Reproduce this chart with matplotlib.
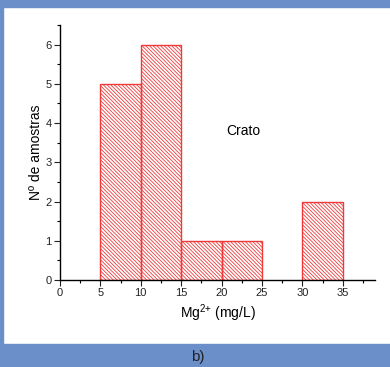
import matplotlib
matplotlib.use('Agg')
import matplotlib.pyplot as plt
from matplotlib.patches import Rectangle
from matplotlib.ticker import MultipleLocator

# histogram bins (mg/L) and counts
bin_left = [5, 10, 15, 20, 30]
bin_width = [5, 5, 5, 5, 5]
counts = [5, 6, 1, 1, 2]

plt.rcParams['font.family'] = ['Liberation Sans', 'DejaVu Sans']
plt.rcParams['mathtext.fontset'] = 'custom'
plt.rcParams['mathtext.rm'] = 'Liberation Sans'
plt.rcParams['mathtext.default'] = 'regular'
plt.rcParams['hatch.color'] = '#ff4040'
plt.rcParams['hatch.linewidth'] = 0.6

BLUE = '#6a8fc9'
RED = '#f03a3a'

fig = plt.figure(figsize=(3.9, 3.67), dpi=100)
fig.patch.set_facecolor('white')

# blue frame strips (figure background decoration)
W, H = 390, 367
fig.patches.append(Rectangle((0, 1 - 7 / H), 1, 7 / H, transform=fig.transFigure,
                             color=BLUE, zorder=0))
fig.patches.append(Rectangle((0, 0), 3 / W, 1, transform=fig.transFigure,
                             color=BLUE, zorder=0))
fig.patches.append(Rectangle((0, 0), 1, 23 / H, transform=fig.transFigure,
                             color=BLUE, zorder=0))

ax = fig.add_axes([60 / W, 1 - 280 / H, (375 - 60) / W, (280 - 25) / H])
ax.bar(bin_left, counts, width=bin_width, align='edge', color='none',
       edgecolor=RED, hatch='\\' * 9, linewidth=1.0, zorder=2)

ax.set_xlim(0, 39)
ax.set_ylim(0, 6.5)
ax.xaxis.set_major_locator(MultipleLocator(5))
ax.xaxis.set_minor_locator(MultipleLocator(2.5))
ax.yaxis.set_major_locator(MultipleLocator(1))
ax.yaxis.set_minor_locator(MultipleLocator(0.5))
ax.tick_params(which='major', direction='out', length=4, width=0.8,
               labelsize=8, colors='#222222', pad=2)
ax.tick_params(which='minor', direction='out', length=2.5, width=0.8)

for s in ['top', 'right']:
    ax.spines[s].set_visible(False)
for s in ['left', 'bottom']:
    ax.spines[s].set_linewidth(1.0)

ax.set_xlabel('Mg$^{2{+}}$ (mg/L)', fontsize=10, labelpad=3)
ax.set_ylabel('Nº de amostras', fontsize=10, labelpad=2)
ax.text(22.7, 3.8, 'Crato', fontsize=10, ha='center', va='center')

fig.text(198 / W, 1 - 357 / H, 'b)', fontsize=11, ha='center', va='center',
         color='#222222')

fig.savefig('out.png', dpi=100)
